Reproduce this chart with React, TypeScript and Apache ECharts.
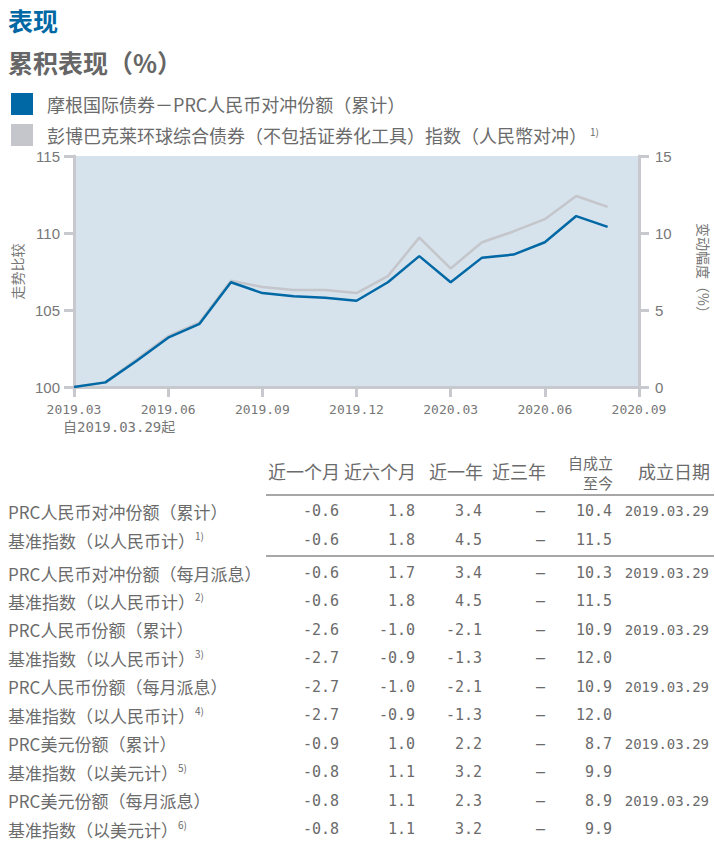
import React, { useEffect, useRef } from "react";
import * as echarts from "echarts";

const months = [
  "2019.03", "2019.04", "2019.05", "2019.06", "2019.07", "2019.08", "2019.09",
  "2019.10", "2019.11", "2019.12", "2020.01", "2020.02", "2020.03", "2020.04",
  "2020.05", "2020.06", "2020.07", "2020.08", "2020.09",
];
const fundValues = [100, 100.3, 101.7, 103.2, 104.1, 106.8, 106.1, 105.9, 105.8, 105.6, 106.8, 108.5, 106.8, 108.4, 108.6, 109.4, 111.1, 110.4];
const benchValues = [100, 100.3, 101.8, 103.3, 104.2, 106.9, 106.5, 106.3, 106.3, 106.1, 107.2, 109.7, 107.7, 109.4, 110.1, 110.9, 112.4, 111.7];

const fundName = "摩根国际债券－PRC人民币对冲份额（累计）";
const benchName = "彭博巴克莱环球综合债券（不包括证券化工具）指数（人民幣对冲）";
const benchNote = "1)";

const title = "表现";
const subtitle = "累积表现（%）";
const leftAxisName = "走势比较";
const rightAxisName = "变动幅度（%）";
const startNote = "自2019.03.29起";

const headers = ["近一个月", "近六个月", "近一年", "近三年", "自成立\n至今", "成立日期"];
const rowLabels = [
  "PRC人民币对冲份额（累计）",
  "基准指数（以人民币计）",
  "PRC人民币对冲份额（每月派息）",
  "基准指数（以人民币计）",
  "PRC人民币份额（累计）",
  "基准指数（以人民币计）",
  "PRC人民币份额（每月派息）",
  "基准指数（以人民币计）",
  "PRC美元份额（累计）",
  "基准指数（以美元计）",
  "PRC美元份额（每月派息）",
  "基准指数（以美元计）",
];
const rowNotes = ["", "1)", "", "2)", "", "3)", "", "4)", "", "5)", "", "6)"];
const oneMonth = [-0.6, -0.6, -0.6, -0.6, -2.6, -2.7, -2.7, -2.7, -0.9, -0.8, -0.8, -0.8];
const sixMonths = [1.8, 1.8, 1.7, 1.8, -1.0, -0.9, -1.0, -0.9, 1.0, 1.1, 1.1, 1.1];
const oneYear = [3.4, 4.5, 3.4, 4.5, -2.1, -1.3, -2.1, -1.3, 2.2, 3.2, 2.3, 3.2];
const threeYears: (number | null)[] = [null, null, null, null, null, null, null, null, null, null, null, null];
const sinceLaunch = [10.4, 11.5, 10.3, 11.5, 10.9, 12.0, 10.9, 12.0, 8.7, 9.9, 8.9, 9.9];
const launchDates = ["2019.03.29", "", "2019.03.29", "", "2019.03.29", "", "2019.03.29", "", "2019.03.29", "", "2019.03.29", ""];

const BLUE = "#0068a5";
const GRAY_LINE = "#c4c6cb";
const TEXT = "#6b6b6b";
const AXIS = "#c8c9ce";
const CJK = "'Noto Sans CJK SC', sans-serif";
const MONO = "'DejaVu Sans Mono', 'Noto Sans CJK SC', monospace";

const fmt = (v: number | null) => (v === null ? "–" : v.toFixed(1));

export default function App() {
  const ref = useRef<HTMLDivElement>(null);
  useEffect(() => {
    if (!ref.current) return;
    const chart = echarts.init(ref.current, undefined, { renderer: "svg" });

    const colRight = [339, 415, 482, 545, 612, 709];
    const rowY = rowLabels.map((_, i) => (i < 2 ? 511 + i * 29 : 573 + (i - 2) * 28.45));
    const graphic: any[] = [];

    graphic.push({
      type: "text", left: 8, top: 7,
      style: { text: title, fill: BLUE, fontSize: 25, fontWeight: "bold", fontFamily: CJK },
    });
    graphic.push({
      type: "text", left: 8, top: 49,
      style: { text: subtitle, fill: "#666", fontSize: 25, fontWeight: "bold", fontFamily: CJK },
    });
    graphic.push({
      type: "text", x: 63, y: 427,
      style: { text: startNote, fill: "#777", fontSize: 14, fontFamily: MONO, verticalAlign: "middle" },
    });

    headers.forEach((h, c) => {
      const parts = h.split("\n");
      if (parts.length === 2) {
        graphic.push({
          type: "text", x: colRight[c] + 1, y: 462,
          style: { text: parts[0], fill: TEXT, fontSize: 15, lineHeight: 15, fontFamily: CJK, align: "right", verticalAlign: "middle" },
        });
        graphic.push({
          type: "text", x: colRight[c] + 1, y: 482,
          style: { text: parts[1], fill: TEXT, fontSize: 15, lineHeight: 15, fontFamily: CJK, align: "right", verticalAlign: "middle" },
        });
      } else {
        graphic.push({
          type: "text", x: colRight[c] + 1, y: 471,
          style: { text: h, fill: TEXT, fontSize: 18, fontFamily: CJK, align: "right", verticalAlign: "middle" },
        });
      }
    });
    [495, 556].forEach((y) => {
      graphic.push({
        type: "line", shape: { x1: 266, y1: y, x2: 714, y2: y },
        style: { stroke: "#8a8a8a", lineWidth: 1.5 },
      });
    });

    rowLabels.forEach((lab, i) => {
      const y = rowY[i];
      graphic.push({
        type: "text", x: 8, y,
        style: {
          text: rowNotes[i] ? `{a|${lab}}{s|${rowNotes[i]}}` : `{a|${lab}}`,
          verticalAlign: "middle",
          rich: {
            a: { fontSize: 17, fill: TEXT, fontFamily: CJK, lineHeight: 20 },
            s: { fontSize: 10, fill: TEXT, fontFamily: CJK, verticalAlign: "top", lineHeight: 14 },
          },
        },
      });
      const vals = [oneMonth[i], sixMonths[i], oneYear[i], threeYears[i], sinceLaunch[i]];
      vals.forEach((v, c) => {
        graphic.push({
          type: "text", x: colRight[c], y,
          style: { text: fmt(v), fill: TEXT, fontSize: 15, fontFamily: MONO, align: "right", verticalAlign: "middle" },
        });
      });
      if (launchDates[i]) {
        graphic.push({
          type: "text", x: colRight[5], y,
          style: { text: launchDates[i], fill: TEXT, fontSize: 14, fontFamily: MONO, align: "right", verticalAlign: "middle" },
        });
      }
    });

    chart.setOption({
      animation: false,
      textStyle: { fontFamily: CJK },
      legend: {
        orient: "vertical", left: 11, top: 93, itemWidth: 22, itemHeight: 22, itemGap: 9,
        padding: 0,
        icon: "rect",
        data: [fundName, benchName],
        formatter: (name: string) => (name === benchName ? `{a|${name}}{s|${benchNote}}` : `{a|${name}}`),
        textStyle: {
          color: TEXT,
          rich: {
            a: { fontSize: 18, color: TEXT, fontFamily: CJK, padding: [0, 0, 0, 9] },
            s: { fontSize: 10, color: TEXT, fontFamily: CJK, verticalAlign: "top", padding: [0, 0, 0, 3] },
          },
        },
      },
      grid: {
        left: 74, right: 76, top: 156, bottom: 456,
        outerBoundsMode: "none",
        containLabel: false,
        show: true, backgroundColor: "#d6e2ec", borderWidth: 0,
      },
      xAxis: {
        type: "category", data: months, boundaryGap: false,
        axisLine: { lineStyle: { color: AXIS, width: 3 } },
        axisTick: { interval: 2, length: 10, lineStyle: { color: AXIS, width: 3 } },
        axisLabel: { interval: 2, color: "#777", fontSize: 13, fontFamily: MONO, margin: 16 },
        splitLine: { show: false },
      },
      yAxis: [
        {
          type: "value", min: 100, max: 115, interval: 5, position: "left",
          name: leftAxisName, nameLocation: "middle", nameRotate: 90, nameGap: 44,
          nameTextStyle: { color: "#777", fontSize: 14, fontFamily: CJK },
          axisLine: { show: true, lineStyle: { color: AXIS, width: 3 } },
          axisTick: { show: true, length: 10, lineStyle: { color: AXIS, width: 3 } },
          axisLabel: { color: "#777", fontSize: 15, fontFamily: "'Liberation Sans', sans-serif", margin: 14 },
          splitLine: { show: false },
        },
        {
          type: "value", min: 0, max: 15, interval: 5, position: "right",
          name: rightAxisName, nameLocation: "middle", nameRotate: -90, nameGap: 58,
          nameTextStyle: { color: "#777", fontSize: 14, fontFamily: CJK },
          axisLine: { show: true, lineStyle: { color: AXIS, width: 3 } },
          axisTick: { show: true, length: 10, lineStyle: { color: AXIS, width: 3 } },
          axisLabel: { color: "#777", fontSize: 15, fontFamily: "'Liberation Sans', sans-serif", margin: 16 },
          splitLine: { show: false },
        },
      ],
      series: [
        {
          name: benchName, type: "line", data: benchValues, showSymbol: false, symbol: "none",
          lineStyle: { color: GRAY_LINE, width: 2.5 }, itemStyle: { color: GRAY_LINE },
        },
        {
          name: fundName, type: "line", data: fundValues, showSymbol: false, symbol: "none",
          lineStyle: { color: BLUE, width: 2.5 }, itemStyle: { color: BLUE },
        },
      ],
      graphic,
    });
    return () => chart.dispose();
  }, []);
  return <div ref={ref} style={{ position: "absolute", left: 0, top: 0, width: 715, height: 843 }} />;
}
